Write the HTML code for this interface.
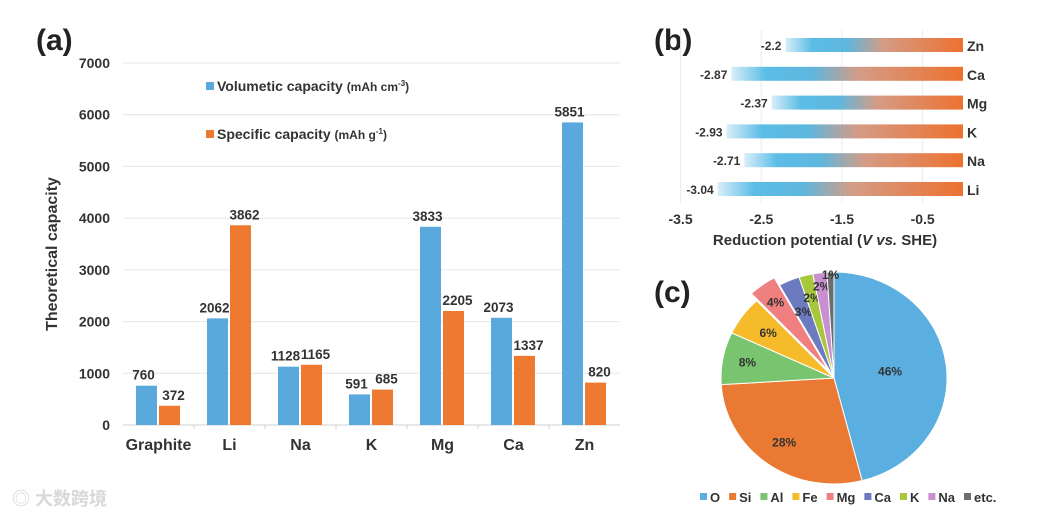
<!DOCTYPE html>
<html><head><meta charset="utf-8">
<style>
body{margin:0;background:#fff;}
svg{display:block;font-family:"Liberation Sans",Arial,sans-serif;font-weight:bold;}
</style></head>
<body>
<svg id="fig" width="1037" height="515" viewBox="0 0 1037 515" xmlns="http://www.w3.org/2000/svg">
<defs>
<linearGradient id="redgrad" x1="0" x2="1" y1="0" y2="0">
<stop offset="0" stop-color="#d8eef9"/><stop offset="0.15" stop-color="#5bbde6"/><stop offset="0.35" stop-color="#5fb6dd"/><stop offset="0.55" stop-color="#d49c86"/><stop offset="1" stop-color="#ed7130"/>
</linearGradient>
</defs>
<g id="pa"></g>
<g id="pb"></g>
<g id="pc"></g>
<text x="12" y="505" font-size="18" fill="#d8d8d8" font-family="'Liberation Sans','Noto Sans CJK SC',sans-serif">◎ 大数跨境</text>
</svg>
<script>
// Panel (a) data
const capCategories = ["Graphite","Li","Na","K","Mg","Ca","Zn"];
const volumetricValues = [760,2062,1128,591,3833,2073,5851];
const specificValues = [372,3862,1165,685,2205,1337,820];
const capTicks = [0,1000,2000,3000,4000,5000,6000,7000];
// Panel (b) data
const potCategories = ["Zn","Ca","Mg","K","Na","Li"];
const potValues = [-2.2,-2.87,-2.37,-2.93,-2.71,-3.04];
const potTicks = [-3.5,-2.5,-1.5,-0.5];
// Panel (c) data
const pieLabels = ["O","Si","Al","Fe","Mg","Ca","K","Na","etc."];
const pieValues = [46,28,8,6,4,3,2,2,1];
const pieColors = ["#5aafe0","#ea7a33","#78c46f","#f6bb2b","#f07f80","#6c7bc0","#a8c83c","#c98fd0","#6d6d6d"];
const pieLabelRadius = [0.5,0.75,0.78,0.72,0.88,0.68,0.78,0.87,0.97];

const NS="http://www.w3.org/2000/svg";
function mk(parent,tag,attrs,text){const e=document.createElementNS(NS,tag);for(const k in attrs)e.setAttribute(k,attrs[k]);if(text!==undefined)e.textContent=text;parent.appendChild(e);return e;}

// ---- Panel A ----
const pa=document.getElementById('pa');
const aL=123,aR=620,aB=425,aT=63,aMax=7000;
const ay=v=>aB-(v/aMax)*(aB-aT);
const cw=(aR-aL)/capCategories.length;
const ax=i=>aL+i*cw;
let t=mk(pa,'text',{x:36,y:50,'font-size':30,fill:'#222'},'(a)');


capTicks.forEach(v=>{
  if(v>0){const g=mk(pa,'line',{x1:aL,x2:aR,y1:ay(v),y2:ay(v),stroke:'#e6e6e6','stroke-width':1});
  
  }
  const l=mk(pa,'text',{x:110,y:ay(v)+5,'font-size':14,'text-anchor':'end',fill:'#333'},v);
  
  
});
let axl=mk(pa,'line',{x1:aL,x2:aR,y1:aB,y2:aB,stroke:'#d0d0d0'});


t=mk(pa,'text',{x:0,y:0,'font-size':16,'text-anchor':'middle',fill:'#333',transform:`translate(57,${(aT+aB)/2+10}) rotate(-90)`},'Theoretical capacity');


capCategories.forEach((c,i)=>{
  const x0=ax(i);
  if(i>0){const tk=mk(pa,'line',{x1:x0,x2:x0,y1:aB,y2:aB+4,stroke:'#d0d0d0'});
  
  }
  const bw=21;
  const b1=mk(pa,'rect',{x:x0+13,y:ay(volumetricValues[i]),width:bw,height:aB-ay(volumetricValues[i]),fill:'#5aa9dc'});
  
  
  const b2=mk(pa,'rect',{x:x0+36,y:ay(specificValues[i]),width:bw,height:aB-ay(specificValues[i]),fill:'#ed7a30'});
  
  
  const l1=mk(pa,'text',{x:x0+13+bw/2-3,y:ay(volumetricValues[i])-6,'font-size':13.5,'text-anchor':'middle',fill:'#333'},volumetricValues[i]);
  
  
  const l2=mk(pa,'text',{x:x0+36+bw/2+4,y:ay(specificValues[i])-6,'font-size':13.5,'text-anchor':'middle',fill:'#333'},specificValues[i]);
  
  
  const xl=mk(pa,'text',{x:x0+cw/2,y:aB+25,'font-size':16,'text-anchor':'middle',fill:'#333'},c);
  
  
});
let lg=mk(pa,'rect',{x:206,y:82,width:8,height:8,fill:'#5aa9dc'});


t=mk(pa,'text',{x:217,y:91,'font-size':14,fill:'#333'});
t.innerHTML='Volumetic capacity <tspan font-size="12">(mAh cm</tspan><tspan font-size="8" dy="-5">-3</tspan><tspan font-size="12" dy="5">)</tspan>';


lg=mk(pa,'rect',{x:206,y:130,width:8,height:8,fill:'#ed7a30'});


t=mk(pa,'text',{x:217,y:139,'font-size':14,fill:'#333'});
t.innerHTML='Specific capacity <tspan font-size="12">(mAh g</tspan><tspan font-size="8" dy="-5">-1</tspan><tspan font-size="12" dy="5">)</tspan>';



// ---- Panel B ----
const pb=document.getElementById('pb');
const bx=v=>963+v*80.7;
const by=i=>45+i*28.8;
t=mk(pb,'text',{x:654,y:50,'font-size':30,fill:'#222'},'(b)');


potTicks.forEach(v=>{
  const g=mk(pb,'line',{x1:bx(v),x2:bx(v),y1:30,y2:203,stroke:'#ececec'});
  
  
  const l=mk(pb,'text',{x:bx(v),y:224,'font-size':14,'text-anchor':'middle',fill:'#333'},v);
  
  
});
potCategories.forEach((c,i)=>{
  const x0=bx(potValues[i]);
  const r=mk(pb,'rect',{x:x0,y:by(i)-7,width:bx(0)-x0,height:14,fill:'url(#redgrad)'});
  
  
  const l=mk(pb,'text',{x:x0-4,y:by(i)+5,'font-size':12,'text-anchor':'end',fill:'#333'},potValues[i]);
  
  
  const n=mk(pb,'text',{x:967,y:by(i)+6,'font-size':14,fill:'#333'},c);
  
  
});
t=mk(pb,'text',{x:825,y:245,'font-size':15,'text-anchor':'middle',fill:'#333'});
t.innerHTML='Reduction potential (<tspan font-style="italic">V vs.</tspan> SHE)';



// ---- Panel C ----
const pc=document.getElementById('pc');
t=mk(pc,'text',{x:654,y:302,'font-size':30,fill:'#222'},'(c)');


const cx=834,cy=378,rx=113,ry=106;
const total=pieValues.reduce((a,b)=>a+b,0);
let acc=0;
pieValues.forEach((v,i)=>{
  const a0=acc/total*2*Math.PI, a1=(acc+v)/total*2*Math.PI; acc+=v;
  const am=(a0+a1)/2;
  const off=(pieLabels[i]==='Mg')?9:0;
  const ox=cx+off*Math.sin(am), oy=cy-off*Math.cos(am);
  const p0=[ox+rx*Math.sin(a0),oy-ry*Math.cos(a0)], p1=[ox+rx*Math.sin(a1),oy-ry*Math.cos(a1)];
  const large=(a1-a0)>Math.PI?1:0;
  const s=mk(pc,'path',{d:`M${ox},${oy} L${p0[0]},${p0[1]} A${rx},${ry} 0 ${large} 1 ${p1[0]},${p1[1]} Z`,fill:pieColors[i],stroke:'#fff','stroke-width':1});
  
  
  const lr=pieLabelRadius[i];
  const lx=cx+rx*lr*Math.sin(am), ly=cy-ry*lr*Math.cos(am)+4;
  const l=mk(pc,'text',{x:lx,y:ly,'font-size':12,'text-anchor':'middle',fill:'#333'},v+'%');
  
  
});
let lx0=700;
pieLabels.forEach((lab,i)=>{
  const sw=mk(pc,'rect',{x:lx0,y:493,width:7,height:7,fill:pieColors[i]});
  
  
  const tx=mk(pc,'text',{x:lx0+10,y:502,'font-size':13,fill:'#333'},lab);
  
  
  lx0+=10+tx.getComputedTextLength()+9;
});
</script>
</body></html>
